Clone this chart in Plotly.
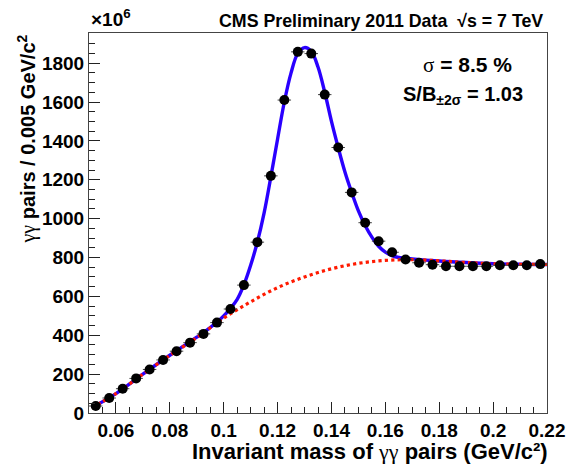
import plotly.graph_objects as go

# Diphoton invariant-mass spectrum, 0.005 GeV/c^2 bins (counts in units of 1e6)
mass_bins = [0.0525, 0.0575, 0.0625, 0.0675, 0.0725, 0.0775, 0.0825, 0.0875,
             0.0925, 0.0975, 0.1025, 0.1075, 0.1125, 0.1175, 0.1225, 0.1275,
             0.1325, 0.1375, 0.1425, 0.1475, 0.1525, 0.1575, 0.1625, 0.1675,
             0.1725, 0.1775, 0.1825, 0.1875, 0.1925, 0.1975, 0.2025, 0.2075,
             0.2125, 0.2175]
pair_counts = [36, 77, 125, 178, 224, 273, 318, 362,
               407, 465, 535, 658, 879, 1220, 1610, 1858,
               1849, 1638, 1366, 1135, 979, 884, 827, 790,
               773, 763, 755, 755, 755, 755, 760, 760,
               760, 766]
half_bin = [0.0025] * len(mass_bins)

# Fitted signal + background model
fit_mass = [0.051, 0.06, 0.07, 0.08, 0.09, 0.095, 0.10, 0.105, 0.1075, 0.11,
            0.1125, 0.115, 0.1175, 0.12, 0.1225, 0.125, 0.1275, 0.13, 0.1325,
            0.135, 0.1375, 0.14, 0.1425, 0.145, 0.1475, 0.15, 0.1525, 0.155,
            0.1575, 0.16, 0.1625, 0.165, 0.17, 0.18, 0.19, 0.20, 0.21, 0.22]
fit_total = [27, 100, 200, 297, 390, 440, 500, 585, 660, 760,
             880, 1030, 1215, 1410, 1600, 1750, 1850, 1880, 1860,
             1780, 1650, 1500, 1365, 1240, 1135, 1040, 965, 905,
             858, 828, 810, 800, 793, 782, 774, 768, 765, 764]

# Background component of the fit
bkg_mass = [0.051, 0.06, 0.07, 0.08, 0.09, 0.10, 0.11, 0.12, 0.13, 0.14,
            0.15, 0.16, 0.17, 0.18, 0.19, 0.20, 0.21, 0.22]
bkg_counts = [27, 100, 200, 296, 388, 488, 572, 645, 700, 742,
              770, 785, 789, 783, 774, 768, 765, 764]

FONT = "Liberation Sans, Arial, sans-serif"
SERIF = "font-family:\"Liberation Serif\",serif;font-weight:normal"
GREEK_GG = "<span style='" + SERIF + "'>γγ</span>"
SIGMA = "<span style='" + SERIF + "'>σ</span>"

fig = go.Figure()

fig.add_trace(go.Scatter(
    x=fit_mass, y=fit_total, mode="lines", line_shape="spline",
    line=dict(color="#2a00ff", width=3.4), hoverinfo="skip", showlegend=False))

fig.add_trace(go.Scatter(
    x=bkg_mass, y=bkg_counts, mode="lines", line_shape="spline",
    line=dict(color="#ff1a00", width=3.2, dash="dot"), hoverinfo="skip",
    showlegend=False))

fig.add_trace(go.Scatter(
    x=mass_bins, y=pair_counts, mode="markers",
    marker=dict(color="black", size=10, symbol="circle"),
    error_x=dict(type="data", array=half_bin, color="#444444",
                 thickness=1, width=0),
    showlegend=False))

axis_common = dict(
    showgrid=False, zeroline=False, showline=True, mirror=True,
    linecolor="#444444", linewidth=1, ticks="inside", tickcolor="#222222",
    tickwidth=1, automargin=False,
    tickfont=dict(family=FONT, size=19, color="black", weight="bold"),
)

fig.update_layout(
    width=567, height=466,
    margin=dict(l=89, r=20, t=33, b=53),
    paper_bgcolor="white", plot_bgcolor="white",
    font=dict(family=FONT, color="black"),
    xaxis=dict(range=[0.05, 0.22], tick0=0, dtick=0.02, ticklen=11,
               minor=dict(dtick=0.005, ticklen=6, ticks="inside",
                          tickcolor="#222222", showgrid=False),
               **axis_common),
    yaxis=dict(range=[0, 1955], tick0=0, dtick=200, ticklen=11, tickformat="d",
               minor=dict(dtick=50, ticklen=6, ticks="inside",
                          tickcolor="#222222", showgrid=False),
               **axis_common),
)

annotations = [
    dict(text="×10<sup>6</sup>", x=0.0, xanchor="left", y=1 + (33 - 18) / 380,
         yanchor="middle", font=dict(size=19, weight="bold")),
    dict(text="CMS Preliminary 2011 Data  √s = 7 TeV", x=(545 - 89) / 458,
         xanchor="right", y=1 + (33 - 21) / 380, yanchor="middle",
         font=dict(size=17.8, weight="bold")),
    dict(text=SIGMA + " = 8.5 %", x=(467 - 89) / 458, xanchor="center",
         y=(413 - 65) / 380, yanchor="middle", font=dict(size=21, weight="bold")),
    dict(text="S/B<sub>±2σ</sub> = 1.03", x=(463 - 89) / 458, xanchor="center",
         y=(413 - 96) / 380, yanchor="middle", font=dict(size=20, weight="bold")),
    dict(text="Invariant mass of " + GREEK_GG + " pairs (GeV/c²)",
         x=1.0 + 3 / 458, xanchor="right", y=(413 - 451) / 380, yanchor="middle",
         font=dict(size=22, weight="bold")),
    dict(text=GREEK_GG + " pairs / 0.005 GeV/c<sup>2</sup>", textangle=-90,
         x=(26 - 89) / 458, xanchor="center", y=1.0, yanchor="top",
         font=dict(size=20, weight="bold")),
]
for a in annotations:
    a.update(xref="paper", yref="paper", showarrow=False)
    fig.add_annotation(**a)

fig.write_html("out.html")
